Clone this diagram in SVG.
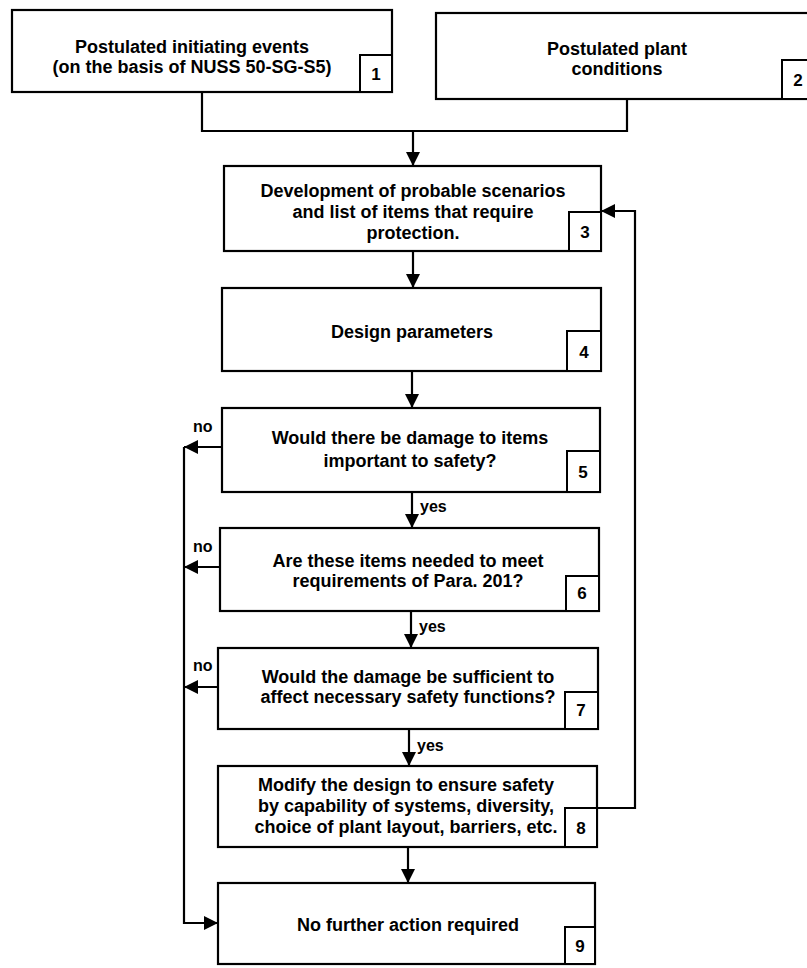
<svg xmlns="http://www.w3.org/2000/svg" width="807" height="968" viewBox="0 0 807 968">
<style>
.box{fill:#fff;stroke:#000;stroke-width:2.2}
.num{fill:#fff;stroke:#000;stroke-width:2}
.t{font-family:"Liberation Sans",Arial,Helvetica,sans-serif;font-size:18px;font-weight:bold;text-anchor:middle;fill:#000}
.n{font-family:"Liberation Sans",Arial,Helvetica,sans-serif;font-size:17px;font-weight:bold;text-anchor:middle;fill:#000}
.lbl{font-family:"Liberation Sans",Arial,Helvetica,sans-serif;font-size:16px;font-weight:bold;fill:#000}
.conn{fill:none;stroke:#000;stroke-width:2.2}
</style>
<defs>
<marker id="ah" markerUnits="userSpaceOnUse" markerWidth="14" markerHeight="14" refX="14" refY="7" orient="auto">
<path d="M0,0 L14,7 L0,14 z" fill="#000"/>
</marker>
</defs>
<rect width="807" height="968" fill="#fff"/>

<g id="connectors">
<path class="conn" d="M202,92 V131 H627 V99"/>
<path class="conn" d="M413,131 V166" marker-end="url(#ah)"/>
<path class="conn" d="M413,251 V288" marker-end="url(#ah)"/>
<path class="conn" d="M412,371 V408" marker-end="url(#ah)"/>
<path class="conn" d="M412,492 V528" marker-end="url(#ah)"/>
<path class="conn" d="M411,611 V648" marker-end="url(#ah)"/>
<path class="conn" d="M409,729 V766" marker-end="url(#ah)"/>
<path class="conn" d="M408,847 V883" marker-end="url(#ah)"/>
<path class="conn" d="M597,808 H635 V211 H601" marker-end="url(#ah)"/>
<path class="conn" d="M222,447 H184" marker-end="url(#ah)"/>
<path class="conn" d="M220,567 H184" marker-end="url(#ah)"/>
<path class="conn" d="M218,687 H184" marker-end="url(#ah)"/>
<path class="conn" d="M184,447 V923 H218" marker-end="url(#ah)"/>
<text class="lbl" x="193" y="432">no</text>
<text class="lbl" x="193" y="552">no</text>
<text class="lbl" x="193" y="671">no</text>
<text class="lbl" x="420" y="512">yes</text>
<text class="lbl" x="419" y="632">yes</text>
<text class="lbl" x="417" y="751">yes</text>
</g>

<g id="node1">
<rect class="box" x="12" y="10" width="380" height="82"/>
<rect class="num" x="360" y="55" width="32" height="37"/>
<text class="t" x="192" y="53">Postulated initiating events</text>
<text class="t" x="192" y="73">(on the basis of NUSS 50-SG-S5)</text>
<text class="n" x="376" y="80">1</text>
</g>

<g id="node2">
<rect class="box" x="436" y="13" width="382" height="86"/>
<rect class="num" x="782" y="60" width="34" height="39"/>
<text class="t" x="617" y="55">Postulated plant</text>
<text class="t" x="617" y="75">conditions</text>
<text class="n" x="798" y="86">2</text>
</g>

<g id="node3">
<rect class="box" x="224" y="166" width="377" height="85"/>
<rect class="num" x="569" y="212" width="32" height="39"/>
<text class="t" x="413" y="197">Development of probable scenarios</text>
<text class="t" x="413" y="218">and list of items that require</text>
<text class="t" x="413" y="239">protection.</text>
<text class="n" x="585" y="238">3</text>
</g>

<g id="node4">
<rect class="box" x="222" y="288" width="379" height="83"/>
<rect class="num" x="567" y="331" width="34" height="40"/>
<text class="t" x="412" y="338">Design parameters</text>
<text class="n" x="584" y="358">4</text>
</g>

<g id="node5">
<rect class="box" x="222" y="408" width="378" height="84"/>
<rect class="num" x="567" y="451" width="33" height="41"/>
<text class="t" x="410" y="444">Would there be damage to items</text>
<text class="t" x="410" y="467">important to safety?</text>
<text class="n" x="583" y="478">5</text>
</g>

<g id="node6">
<rect class="box" x="220" y="528" width="379" height="83"/>
<rect class="num" x="566" y="576" width="33" height="35"/>
<text class="t" x="408" y="567">Are these items needed to meet</text>
<text class="t" x="408" y="587">requirements of Para. 201?</text>
<text class="n" x="582" y="599">6</text>
</g>

<g id="node7">
<rect class="box" x="218" y="648" width="380" height="81"/>
<rect class="num" x="565" y="692" width="33" height="37"/>
<text class="t" x="408" y="683">Would the damage be sufficient to</text>
<text class="t" x="408" y="703">affect necessary safety functions?</text>
<text class="n" x="581" y="716">7</text>
</g>

<g id="node8">
<rect class="box" x="218" y="766" width="379" height="81"/>
<rect class="num" x="565" y="808" width="32" height="39"/>
<text class="t" x="406" y="791">Modify the design to ensure safety</text>
<text class="t" x="406" y="812">by capability of systems, diversity,</text>
<text class="t" x="406" y="833">choice of plant layout, barriers, etc.</text>
<text class="n" x="581" y="834">8</text>
</g>

<g id="node9">
<rect class="box" x="218" y="883" width="377" height="81"/>
<rect class="num" x="565" y="927" width="30" height="37"/>
<text class="t" x="408" y="931">No further action required</text>
<text class="n" x="580" y="952">9</text>
</g>
</svg>
